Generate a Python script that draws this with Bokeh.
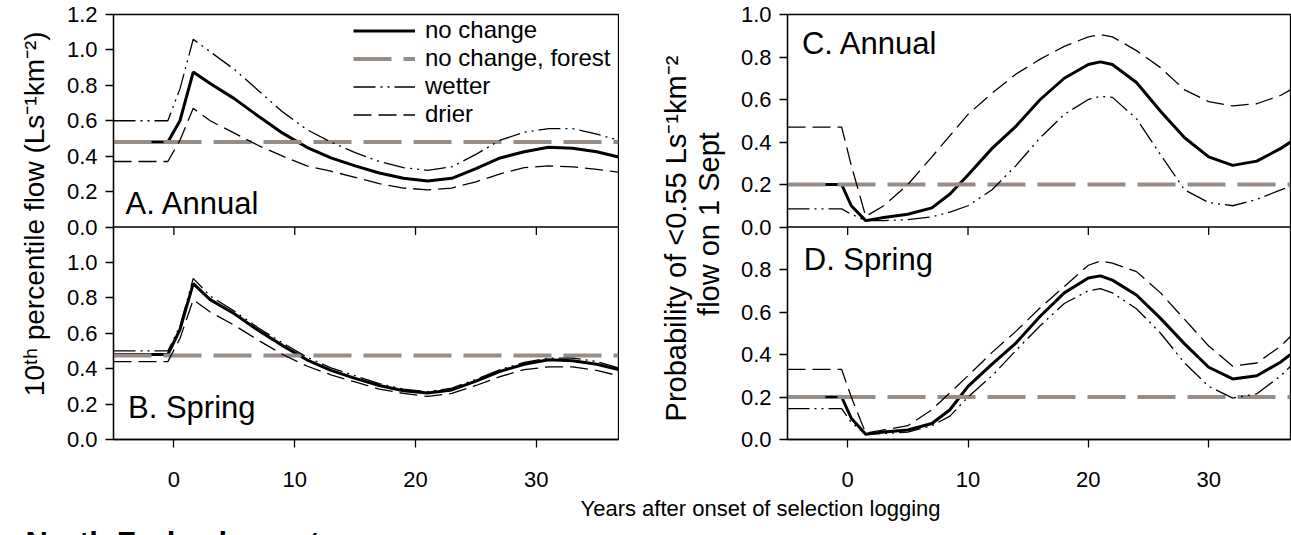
import math
from bokeh.plotting import figure
from bokeh.models import (Range1d, FixedTicker, LinearAxis, Legend, LegendItem,
                          Label, PrintfTickFormatter, Span)
from bokeh.layouts import row, column
from bokeh.embed import file_html
from bokeh.resources import INLINE
from bokeh.core.properties import value

FONT = "Liberation Sans"
XMIN, XMAX = -5, 36.8

# ---------------- data ----------------
X_FLOW = [-5, -0.5, 0.5, 1.6, 3, 5, 7, 9, 11, 13, 15, 17, 19, 21, 23, 25, 27, 29, 31, 33, 35, 36.8]
A_NONE = [0.48, 0.48, 0.60, 0.875, 0.81, 0.725, 0.625, 0.53, 0.45, 0.39, 0.345, 0.305, 0.275, 0.26, 0.275, 0.33, 0.39, 0.425, 0.45, 0.445, 0.425, 0.395]
A_WET = [0.60, 0.60, 0.78, 1.06, 0.99, 0.89, 0.77, 0.65, 0.55, 0.48, 0.42, 0.37, 0.335, 0.32, 0.34, 0.41, 0.49, 0.535, 0.555, 0.555, 0.525, 0.49]
A_DRY = [0.37, 0.37, 0.49, 0.67, 0.60, 0.53, 0.46, 0.40, 0.345, 0.315, 0.28, 0.245, 0.22, 0.21, 0.22, 0.255, 0.30, 0.335, 0.345, 0.34, 0.325, 0.31]
B_NONE = [0.48, 0.48, 0.62, 0.88, 0.79, 0.71, 0.615, 0.53, 0.45, 0.39, 0.345, 0.305, 0.275, 0.262, 0.28, 0.33, 0.385, 0.425, 0.45, 0.445, 0.425, 0.395]
B_WET = [0.50, 0.50, 0.64, 0.91, 0.81, 0.725, 0.63, 0.545, 0.465, 0.405, 0.36, 0.315, 0.285, 0.27, 0.29, 0.34, 0.395, 0.435, 0.46, 0.46, 0.44, 0.405]
B_DRY = [0.44, 0.44, 0.57, 0.79, 0.72, 0.645, 0.56, 0.48, 0.415, 0.365, 0.325, 0.285, 0.26, 0.243, 0.26, 0.305, 0.355, 0.395, 0.41, 0.41, 0.39, 0.36]

X_PROB = [-5, -0.5, 0.3, 1.5, 3, 5, 7, 8.5, 10, 12, 14, 16, 18, 20, 21, 22, 24, 26, 28, 30, 32, 34, 36, 36.8]
C_NONE = [0.2, 0.2, 0.10, 0.03, 0.045, 0.06, 0.09, 0.155, 0.245, 0.37, 0.475, 0.60, 0.70, 0.765, 0.777, 0.765, 0.68, 0.545, 0.42, 0.33, 0.29, 0.31, 0.37, 0.40]
C_DRY = [0.47, 0.47, 0.29, 0.05, 0.10, 0.20, 0.33, 0.43, 0.53, 0.63, 0.72, 0.79, 0.85, 0.895, 0.905, 0.895, 0.83, 0.75, 0.645, 0.59, 0.57, 0.58, 0.62, 0.645]
C_WET = [0.085, 0.085, 0.06, 0.03, 0.03, 0.035, 0.048, 0.07, 0.10, 0.175, 0.29, 0.42, 0.53, 0.60, 0.615, 0.61, 0.51, 0.34, 0.175, 0.115, 0.10, 0.13, 0.175, 0.19]
D_NONE = [0.2, 0.2, 0.10, 0.025, 0.035, 0.045, 0.075, 0.14, 0.25, 0.355, 0.455, 0.58, 0.69, 0.76, 0.77, 0.75, 0.68, 0.57, 0.45, 0.34, 0.285, 0.30, 0.365, 0.40]
D_DRY = [0.33, 0.33, 0.20, 0.03, 0.045, 0.065, 0.14, 0.22, 0.30, 0.41, 0.51, 0.62, 0.72, 0.82, 0.84, 0.83, 0.79, 0.69, 0.565, 0.44, 0.345, 0.36, 0.44, 0.485]
D_WET = [0.145, 0.145, 0.08, 0.025, 0.028, 0.035, 0.065, 0.11, 0.20, 0.30, 0.42, 0.535, 0.64, 0.70, 0.71, 0.69, 0.615, 0.50, 0.36, 0.25, 0.195, 0.215, 0.30, 0.345]

X_FOREST = [-5, 36.8]
FOREST_A = [0.48, 0.48]
FOREST_B = [0.475, 0.475]
FOREST_C = [0.2, 0.2]
FOREST_D = [0.2, 0.2]

X_TICKS = [0, 10, 20, 30]
FLOW_MAX = 1.2   # each flow panel spans 0..1.2
PROB_MAX = 1.0   # each probability panel spans 0..1.0
# stacked panels share one vertical axis: lower panel 0..max, upper panel max..2*max
FLOW_TICKS = [0.0, 0.2, 0.4, 0.6, 0.8, 1.0, 1.2, 1.4, 1.6, 1.8, 2.0, 2.2, 2.4]
FLOW_LABELS = ["0.0", "0.2", "0.4", "0.6", "0.8", "1.0", "0.0", "0.2", "0.4", "0.6", "0.8", "1.0", "1.2"]
PROB_TICKS = [0.0, 0.2, 0.4, 0.6, 0.8, 1.0, 1.2, 1.4, 1.6, 1.8, 2.0]
PROB_LABELS = ["0.0", "0.2", "0.4", "0.6", "0.8", "0.0", "0.2", "0.4", "0.6", "0.8", "1.0"]

LEGEND_LABELS = ["no change", "no change, forest", "wetter", "drier"]

GRAY = "#978d87"
TICK_PX = "22px"
BOT = 58
FRAME_H = 425


def column_panel(w, ymax, ticks, labels):
    p = figure(width=w, height=14 + FRAME_H + BOT, output_backend="svg", toolbar_location=None,
               x_range=Range1d(XMIN, XMAX), y_range=Range1d(0, 2 * ymax),
               x_axis_location=None,
               min_border_left=56, min_border_right=1, min_border_top=14, min_border_bottom=BOT)
    p.extra_y_ranges = {"upper": Range1d(-ymax, ymax)}
    p.xgrid.visible = False
    p.ygrid.visible = False
    p.outline_line_color = "black"
    p.outline_line_width = 1.3
    p.background_fill_color = "white"
    p.border_fill_color = "white"
    ax = p.yaxis[0]
    ax.ticker = FixedTicker(ticks=ticks)
    ax.major_label_overrides = dict(zip(ticks, labels))
    ax.major_tick_out = 8
    ax.major_tick_in = 0
    ax.minor_tick_line_color = None
    ax.major_label_standoff = 8
    ax.major_label_text_font = FONT
    ax.major_label_text_font_size = TICK_PX
    ax.major_label_text_color = "black"
    ax.axis_line_width = 1.3
    ax.major_tick_line_width = 1.3
    bot = LinearAxis(ticker=FixedTicker(ticks=X_TICKS), major_tick_in=0, major_tick_out=8,
                     minor_tick_line_color=None, axis_line_width=1.3, major_tick_line_width=1.3,
                     major_label_standoff=24, major_label_text_font=FONT,
                     major_label_text_font_size=TICK_PX, major_label_text_color="black")
    p.add_layout(bot, "below")
    # the boundary between the two panels and the upper panel's x ticks
    p.add_layout(Span(location=ymax, dimension="width", line_color="black", line_width=1.3))
    tick_len = 8 * 2 * ymax / FRAME_H
    p.segment(x0=X_TICKS, x1=X_TICKS, y0=[ymax] * len(X_TICKS), y1=[ymax - tick_len] * len(X_TICKS),
              line_color="black", line_width=1.3)
    return p


def draw(p, x, none, wet, dry, forest, rng="default"):
    r_none = p.line(x, none, line_color="black", line_width=3, y_range_name=rng)
    r_for = p.line(X_FOREST, forest, line_color=GRAY, line_width=4, line_dash="38 12",
                   y_range_name=rng)
    r_wet = p.line(x, wet, line_color="black", line_width=1.3, line_dash="22 5 2 5 2 5",
                   y_range_name=rng)
    r_dry = p.line(x, dry, line_color="black", line_width=1.3, line_dash="18 7",
                   y_range_name=rng)
    return [r_none, r_for, r_wet, r_dry]


def plabel(p, x, y, text, rng="default"):
    p.add_layout(Label(x=x, y=y, text=text, text_font=FONT, text_font_size="31px",
                       text_color="black", text_baseline="alphabetic", y_range_name=rng))


pAB = column_panel(562, FLOW_MAX, FLOW_TICKS, FLOW_LABELS)
pCD = column_panel(560, PROB_MAX, PROB_TICKS, PROB_LABELS)

rA = draw(pAB, X_FLOW, A_NONE, A_WET, A_DRY, FOREST_A, "upper")
draw(pAB, X_FLOW, B_NONE, B_WET, B_DRY, FOREST_B)
draw(pCD, X_PROB, C_NONE, C_WET, C_DRY, FOREST_C, "upper")
draw(pCD, X_PROB, D_NONE, D_WET, D_DRY, FOREST_D)

legend = Legend(items=[LegendItem(label=lab, renderers=[r]) for lab, r in zip(LEGEND_LABELS, rA)],
                location=(240, 311), orientation="vertical",
                padding=0, margin=0, spacing=0, glyph_width=62, glyph_height=25,
                label_height=25, label_standoff=10, label_text_font=FONT,
                label_text_font_size="24px", label_text_color="black",
                background_fill_alpha=0, border_line_alpha=0)
pAB.add_layout(legend)

plabel(pAB, -4.0, 0.13, "A. Annual", "upper")
plabel(pAB, -3.8, 0.18, "B. Spring")
plabel(pCD, -3.8, 0.865, "C. Annual", "upper")
plabel(pCD, -3.65, 0.847, "D. Spring")


def blank(w, h):
    p = figure(width=w, height=h, output_backend="svg", toolbar_location=None,
               x_range=Range1d(0, w), y_range=Range1d(0, h),
               x_axis_type=None, y_axis_type=None,
               min_border_left=0, min_border_right=0, min_border_top=0, min_border_bottom=0)
    p.outline_line_color = None
    p.xgrid.visible = False
    p.ygrid.visible = False
    p.background_fill_color = "white"
    p.border_fill_color = "white"
    return p


H_TOP = 14 + FRAME_H + BOT
pL = blank(57, H_TOP)
pL.text(x=[34], y=[H_TOP - 233], text=["10ᵗʰ percentile flow (Ls⁻¹km⁻²)"], angle=math.pi / 2,
        text_align="center", text_baseline="alphabetic", text_font=value(FONT),
        text_font_size="28px", text_color="black")

pR = blank(112, H_TOP)
pR.text(x=[56, 89], y=[H_TOP - 262, H_TOP - 245],
        text=["Probability of <0.55 Ls⁻¹km⁻²", "flow on 1 Sept"],
        angle=math.pi / 2, text_align="center", text_baseline="alphabetic",
        text_font=value(FONT), text_font_size="29px", text_color="black")

H_BOT = 535 - H_TOP
pBot = blank(1291, H_BOT)
pBot.text(x=[760], y=[27], text=["Years after onset of selection logging"],
          text_align="center", text_baseline="alphabetic", text_font=value(FONT),
          text_font_size="22px", text_color="black")
pBot.text(x=[25], y=[10], text=["North Fork, clearcut"], text_align="left",
          text_baseline="top", text_font=value(FONT), text_font_style="bold",
          text_font_size="31px", text_color="black")

layout = column(row(pL, pAB, pR, pCD), pBot)

open("out.html", "w").write(file_html(layout, INLINE))
